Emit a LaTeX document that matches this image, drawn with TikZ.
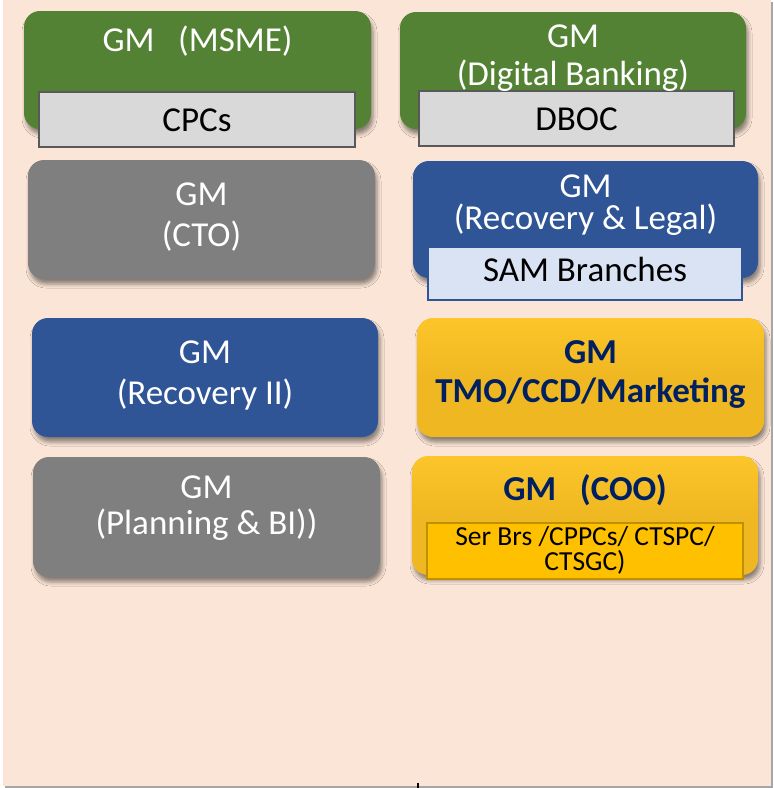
\documentclass[tikz,border=0pt]{standalone}
\usepackage{fontspec}
\setmainfont{Carlito}
\usetikzlibrary{shadows.blur}
\definecolor{peach}{HTML}{FBE5D6}
\definecolor{gmgreen}{HTML}{548235}
\definecolor{gmgray}{HTML}{7F7F7F}
\definecolor{gmblue}{HTML}{2F5597}
\definecolor{gmyellow}{HTML}{EFB822}
\definecolor{gmyellowtop}{HTML}{FCC52A}
\definecolor{subgray}{HTML}{D9D9D9}
\definecolor{subgrayline}{HTML}{595959}
\definecolor{subblue}{HTML}{DAE3F3}
\definecolor{subgold}{HTML}{FFC000}
\definecolor{subgoldline}{HTML}{BF9000}
\definecolor{navy}{HTML}{002060}
\definecolor{frameline}{HTML}{A6A6A6}
\begin{document}
\begin{tikzpicture}[x=1pt,y=-1pt,
  gmbox/.style={rectangle, rounded corners=16pt, inner sep=0pt, outer sep=0pt,
    blur shadow={shadow xshift=2pt, shadow yshift=-5pt, shadow blur radius=4pt, shadow opacity=45}},
  greenbox/.style={gmbox, fill=gmgreen},
  graybox/.style={gmbox, fill=gmgray},
  bluebox/.style={gmbox, fill=gmblue},
  yellowbox/.style={gmbox, top color=gmyellowtop, bottom color=gmyellow, middle color=gmyellow},
  subbox/.style={rectangle, inner sep=0pt, outer sep=0pt, line width=1.5pt},
  txt/.style={anchor=base, inner sep=0pt, font=\fontsize{35}{35}\selectfont},
  wtxt/.style={txt, text=white},
  btxt/.style={txt, text=black},
  ytxt/.style={txt, text=navy, font=\fontsize{35}{35}\selectfont\bfseries},
  stxt/.style={anchor=center, align=center, inner sep=0pt, text=black, font=\fontsize{27.5}{25}\selectfont}]
\useasboundingbox (0,0) rectangle (774,788);
\fill[white] (0,0) rectangle (774,788);
\fill[frameline] (5,2) rectangle (773,788);
\fill[peach] (3,0) rectangle (771,786);
\coordinate (tickA) at (418,783);
\coordinate (tickB) at (418,788);
\draw[black, line width=1.5pt] (tickA) -- (tickB);

% main boxes
\node[greenbox, minimum width=347pt, minimum height=118pt] (msme) at (197.5,70) {};
\node[greenbox, minimum width=346pt, minimum height=117pt] (digital) at (573,70.5) {};
\node[graybox, minimum width=347pt, minimum height=119pt] (cto) at (201.5,219.5) {};
\node[bluebox, minimum width=345pt, minimum height=117pt] (legal) at (585.5,219.5) {};
\node[bluebox, minimum width=346pt, minimum height=119pt] (rectwo) at (205,377.5) {};
\node[yellowbox, minimum width=347pt, minimum height=119pt] (tmo) at (590.5,377.5) {};
\node[graybox, minimum width=347pt, minimum height=120pt] (plan) at (206.5,517) {};
\node[yellowbox, minimum width=346pt, minimum height=119pt] (coo) at (585,515.5) {};

% sub boxes
\node[subbox, fill=subgray, draw=subgrayline, minimum width=316pt, minimum height=55pt] (cpcs) at (197,119.5) {};
\node[subbox, fill=subgray, draw=subgrayline, minimum width=315pt, minimum height=55pt] (dboc) at (576.5,118.5) {};
\node[subbox, fill=subblue, draw=gmblue, minimum width=314pt, minimum height=53pt] (sam) at (585,273.5) {};
\node[subbox, fill=subgold, draw=subgoldline, minimum width=316pt, minimum height=56pt] (coosub) at (585,551) {};

% texts
\node[wtxt] (msmeT) at (197.5,51) {GM~~~(MSME)};
\node[btxt] (cpcsT) at (197,131) {CPCs};
\node[wtxt] (digitalT1) at (573,47) {GM};
\node[wtxt] (digitalT2) at (573,85) {(Digital Banking)};
\node[btxt] (dbocT) at (576.5,130) {DBOC};
\node[wtxt] (ctoT1) at (201.5,205) {GM};
\node[wtxt] (ctoT2) at (201.5,246) {(CTO)};
\node[wtxt] (legalT1) at (585.5,197) {GM};
\node[wtxt] (legalT2) at (585.5,229) {(Recovery \& Legal)};
\node[btxt] (samT) at (585,281) {SAM Branches};
\node[wtxt] (rectwoT1) at (205,363) {GM};
\node[wtxt] (rectwoT2) at (205,404) {(Recovery II)};
\node[ytxt] (tmoT1) at (590.5,363) {GM};
\node[ytxt] (tmoT2) at (590.5,402) {TMO/CCD/Marketing};
\node[wtxt] (planT1) at (206.5,498) {GM};
\node[wtxt] (planT2) at (206.5,534) {(Planning \& BI))};
\node[ytxt] (cooT) at (585,500) {GM~~~(COO)};
\node[stxt] (coosubT) at (585,550.5) {Ser Brs /CPPCs/ CTSPC/\\CTSGC)};
\end{tikzpicture}
\end{document}
